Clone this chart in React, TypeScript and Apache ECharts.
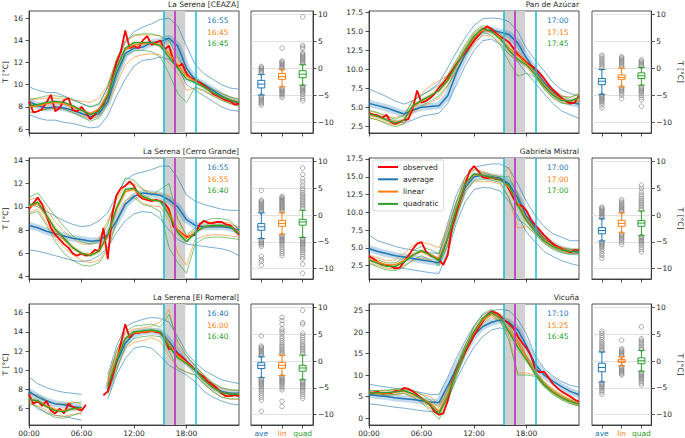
import React, { useEffect, useRef } from "react";
import * as echarts from "echarts";

// ---------- time grids (hours of day) ----------
const HOURS = [0,1,2,3,4,5,6,7,8,9,10,11,12,13,14,15,16,17,18,19,20,21,22,23,24];
const HALF_HOURS = [0,0.5,1,1.5,2,2.5,3,3.5,4,4.5,5,5.5,6,6.5,7,7.5,8,8.5,9,9.5,10,10.5,11,11.5,12,12.5,13,13.5,14,14.5,15,15.5,16,16.5,17,17.5,18,18.5,19,19.5,20,20.5,21,21.5,22,22.5,23,23.5,24];
const X_TICKS = [0, 6, 12, 18];
const ECLIPSE = [15.4, 16.7, 17.85]; // start, maximum, end (hours)
const WINDOW_END = 19.05;
const BOX_CATS = ["ave", "lin", "quad"];
const BOX_TICKS = [-10, -5, 0, 5, 10];

// ---------- La Serena [CEAZA] ----------
const ceazaObs = [8.5,7.5,7.6,7.8,8.4,9.1,7.6,7.9,8.6,8.8,7.7,7.6,8.0,7.5,6.9,7.3,7.8,8.2,9.0,10.5,12.0,13.0,14.9,13.3,13.5,13.3,14.0,14.4,13.6,13.8,14.0,13.2,13.5,12.2,11.6,11.9,11.0,10.6,10.4,10.2,9.9,9.6,9.2,9.0,8.8,8.6,8.5,8.2,8.3];
const ceazaAvg = [8.5,8.1,7.9,8.0,7.9,7.7,7.4,7.1,7.4,8.5,11.0,12.8,13.3,13.4,13.8,13.9,14.2,13.5,11.5,10.4,10.0,9.5,9.0,8.6,8.3];
const ceazaAvgHi = [9.8,9.5,9.3,9.3,9.0,8.6,8.3,8.0,8.2,9.8,12.0,13.8,14.8,15.2,15.5,15.9,16.0,15.3,13.5,11.8,11.0,10.5,10.0,9.7,9.6];
const ceazaAvgLo = [7.3,7.0,6.8,6.8,6.6,6.5,6.3,6.1,6.2,7.2,9.0,10.5,11.7,12.2,12.3,12.5,12.3,11.6,10.0,9.5,9.0,8.5,8.0,7.7,7.6];
const ceazaLin = [8.0,8.1,8.3,8.4,8.3,8.0,7.7,7.4,7.8,9.2,11.5,13.2,13.6,13.7,13.8,13.6,12.8,11.8,10.8,10.3,9.8,9.3,8.9,8.6,8.4];
const ceazaLinHi = [8.6,8.7,8.8,8.8,8.7,8.6,8.5,8.4,8.8,10.0,12.3,13.9,14.4,14.5,14.5,14.4,13.5,12.3,11.0,10.5,10.0,9.6,9.2,8.9,8.7];
const ceazaLinLo = [7.5,7.6,7.8,7.9,7.8,7.5,7.2,6.9,7.2,8.3,10.0,11.8,12.5,12.7,12.8,12.7,12.0,11.0,9.5,9.7,9.4,9.0,8.6,8.3,8.1];
const ceazaQuad = [8.1,8.2,8.4,8.5,8.4,8.1,7.7,7.3,7.6,9.0,11.5,13.3,13.8,13.8,13.8,13.5,12.5,11.5,10.5,10.2,9.8,9.3,8.9,8.6,8.4];
const ceazaQuadHi = [8.7,8.8,9.0,9.0,8.9,8.7,8.3,8.0,8.3,9.8,12.3,14.0,14.5,14.6,14.6,14.4,14.0,12.5,11.2,10.6,10.1,9.6,9.2,8.9,8.7];
const ceazaQuadLo = [7.5,7.6,7.8,7.9,7.8,7.5,7.1,6.7,7.0,8.3,10.6,12.6,13.1,13.1,13.0,12.5,11.0,9.2,8.4,9.8,9.5,9.0,8.6,8.3,8.1];
const ceazaTicks = [6, 8, 10, 12, 14, 16];
const ceazaTimes = ["16:55", "16:45", "16:45"];
const ceazaBox = [[-4.9,-3.6,-2.9,-2.2,-1.1],[-3.4,-2.0,-1.5,-0.9,-0.2],[-3.1,-1.7,-1.05,-0.4,0.7]];
const ceazaOut = [
  [0.4,0.2,0.0,-0.2,-0.4,-0.6,-0.8,-5.1,-5.3,-5.5,-5.7,-5.9,-6.1,-6.3,-6.5,-6.8],
  [3.8,1.4,1.2,1.0,0.8,0.6,0.4,0.2,0.0,-3.6,-3.8,-4.0,-4.2,-4.4,-4.6,-4.8,-5.1,-5.4],
  [9.6,4.3,4.0,3.7,2.9,2.7,2.5,2.3,2.1,1.9,1.7,1.5,1.3,1.1,0.9,-3.3,-3.5,-3.7,-3.9,-4.1,-4.3,-4.5,-4.8,-5.2,-5.6,-6.0],
];

// ---------- Pan de Azúcar ----------
const panObs = [4.2,4.0,3.9,3.6,4.0,3.0,2.8,3.0,3.3,3.4,4.8,7.2,5.6,5.8,6.2,6.8,7.6,8.2,9.0,9.8,10.7,11.5,12.3,13.0,13.8,14.5,15.2,15.7,15.3,14.8,14.3,14.0,13.6,12.8,12.0,11.4,10.9,10.5,10.1,9.5,8.8,8.0,7.3,6.8,6.2,5.8,5.5,5.6,6.5];
const panAvg = [5.5,5.2,4.9,4.5,4.1,4.6,5.0,5.1,5.2,6.5,9.6,12.0,13.9,15.1,15.2,14.9,14.6,13.5,11.5,9.8,8.3,7.0,6.1,5.6,5.4];
const panAvgHi = [7.4,6.9,6.4,5.8,5.4,5.8,6.5,7.3,8.2,10.2,12.3,14.2,15.8,16.7,16.8,16.7,16.3,15.0,12.8,11.2,9.8,8.3,7.3,6.8,6.5];
const panAvgLo = [4.0,3.8,3.5,3.2,2.9,3.3,3.8,4.0,4.2,5.5,8.0,10.5,12.5,13.8,14.0,13.3,12.0,11.0,9.5,8.2,6.8,5.5,4.5,4.0,3.5];
const panLin = [4.0,3.7,3.3,3.0,3.3,5.0,5.8,6.5,7.2,8.5,10.5,12.5,14.2,15.2,15.0,14.2,12.8,11.8,10.8,9.5,8.0,6.8,6.0,5.8,6.2];
const panLinHi = [4.5,4.2,3.8,3.6,4.0,5.8,6.8,7.8,8.5,9.2,11.0,13.0,14.8,15.6,15.3,14.7,13.5,12.3,11.2,9.9,8.5,7.3,6.5,6.3,6.7];
const panLinLo = [3.6,3.3,2.9,2.6,2.8,4.3,5.0,5.6,6.2,7.8,9.8,11.8,13.5,14.5,14.4,13.5,12.0,11.2,10.3,9.0,7.5,6.3,5.6,5.4,5.7];
const panQuad = [4.1,3.8,3.3,2.9,3.3,5.2,5.9,6.5,7.2,8.6,10.6,12.6,14.4,15.4,15.0,14.0,12.5,11.3,10.6,9.3,7.8,6.6,5.9,5.8,6.3];
const panQuadHi = [4.6,4.3,3.8,3.4,3.9,5.9,6.6,7.2,7.9,9.3,11.3,13.3,15.0,15.8,15.5,14.6,13.5,12.0,11.0,9.7,8.3,7.1,6.4,6.3,6.8];
const panQuadLo = [3.6,3.3,2.8,2.4,2.8,4.6,5.2,5.8,6.5,7.9,9.9,11.9,13.8,14.9,14.5,13.2,11.0,9.1,9.5,9.0,7.4,6.2,5.5,5.4,5.8];
const panTicks = [2.5, 5, 7.5, 10, 12.5, 15, 17.5];
const panTimes = ["17:00", "17:15", "17:45"];
const panBox = [[-4.8,-3.0,-2.35,-1.85,-0.2],[-3.4,-2.0,-1.65,-1.2,0.1],[-3.1,-1.85,-1.35,-0.8,0.2]];
const panOut = [
  [2.5,2.2,1.9,1.6,1.3,1.0,0.7,0.4,0.1,-4.9,-5.1,-5.3,-5.5,-5.7,-5.9,-6.1,-6.4,-6.8,-7.3],
  [2.2,2.0,1.8,1.6,1.4,1.2,1.0,0.8,0.5,0.3,-3.5,-3.7,-3.9,-4.1,-4.3,-4.6,-5.0,-5.6],
  [1.6,1.4,1.2,1.0,0.8,0.6,0.4,-3.4,-3.6,-3.8,-4.0,-4.2,-4.4,-4.7,-5.0,-5.4,-5.8,-7.0],
];

// ---------- La Serena [Cerro Grande] ----------
const cgObs = [9.8,10.3,10.8,10.2,9.2,8.2,7.6,7.2,6.8,6.5,6.0,5.8,6.0,5.8,5.9,6.3,6.2,8.2,5.5,9.3,11.0,11.6,11.8,12.2,11.8,11.0,10.7,10.6,10.5,10.6,10.5,10.3,9.8,8.3,8.0,7.7,7.4,7.5,7.6,8.5,8.8,8.6,8.6,8.7,8.7,8.5,8.4,8.0,7.6];
const cgAvg = [8.4,8.2,7.9,7.7,7.5,7.3,7.2,7.05,7.1,7.6,8.8,10.2,10.9,11.2,11.1,11.0,10.6,10.0,8.9,8.4,8.3,8.3,8.3,8.2,8.0];
const cgAvgHi = [10.3,10.0,9.6,9.2,8.8,8.5,8.3,8.4,8.8,9.5,11.0,12.3,12.8,13.0,13.2,13.5,13.5,12.5,11.0,10.5,10.2,10.0,9.8,9.7,9.7];
const cgAvgLo = [6.3,6.2,6.0,5.8,5.6,5.4,5.3,5.4,5.8,6.5,7.8,8.8,9.4,9.6,9.5,9.0,8.0,7.2,6.8,6.7,6.6,6.5,6.4,6.2,5.8];
const cgLin = [10.0,10.3,9.2,8.0,7.2,6.5,6.0,5.9,6.2,7.5,9.8,11.3,11.5,10.8,10.6,10.5,9.5,8.0,7.3,7.8,8.3,8.4,8.4,8.3,7.8];
const cgLinHi = [10.6,10.8,9.8,8.7,7.9,7.3,6.8,6.8,7.3,8.8,10.6,11.9,12.0,11.5,11.2,11.1,11.0,8.8,7.5,8.0,8.7,8.7,8.7,8.6,8.2];
const cgLinLo = [9.5,9.8,8.6,7.3,6.5,5.9,5.4,5.2,5.4,6.5,8.8,10.5,11.0,10.3,10.1,10.0,8.8,6.0,5.0,7.2,7.5,7.6,7.6,7.5,7.4];
const cgQuad = [10.1,10.4,9.3,8.1,7.3,6.5,6.0,5.8,6.2,7.6,9.9,11.5,11.6,10.9,10.6,10.5,9.3,7.8,7.0,7.8,8.3,8.4,8.4,8.3,7.7];
const cgQuadHi = [10.8,11.2,10.2,9.2,8.3,7.5,7.0,6.8,7.0,8.5,10.8,12.5,12.3,11.5,11.0,11.5,12.0,9.0,7.6,8.2,8.8,9.0,9.0,8.8,8.0];
const cgQuadLo = [9.4,9.6,8.4,7.0,6.0,5.4,5.0,4.9,5.2,6.3,8.6,10.3,10.8,10.2,10.0,9.6,6.5,5.2,4.3,6.8,7.3,7.4,7.4,7.3,7.2];
const cgTicks = [4, 6, 8, 10, 12, 14];
const cgTimes = ["16:55", "16:55", "16:40"];
const cgBox = [[-4.4,-2.85,-2.2,-1.6,0.4],[-3.6,-2.1,-1.55,-1.0,0.4],[-4.2,-1.9,-1.3,-0.8,0.9]];
const cgOut = [
  [4.6,2.8,2.6,2.4,2.2,2.0,1.8,1.6,1.4,1.2,1.0,0.8,0.6,-4.6,-4.8,-5.0,-5.2,-5.4,-5.6,-5.9,-7.7,-8.3,-8.7,-9.4],
  [3.5,3.3,3.1,2.9,2.7,2.5,2.3,2.1,1.9,1.7,1.5,1.3,1.1,0.9,0.7,-3.8,-4.0,-4.2,-4.4,-4.6,-4.8,-5.0,-5.3,-5.6,-6.0,-6.4,-6.8,-7.2,-7.6],
  [8.8,7.6,6.8,6.2,5.6,5.0,4.6,4.2,3.9,3.6,3.3,3.0,2.7,2.4,2.1,1.8,1.5,1.2,-4.4,-4.6,-4.8,-5.0,-5.2,-5.4,-5.6,-5.8,-6.1,-6.4,-6.7,-7.0,-7.4,-7.8,-8.2,-9.2,-10.9],
];

// ---------- Gabriela Mistral ----------
const gmObs = [3.8,3.5,3.0,2.6,2.6,2.4,2.1,2.2,3.0,3.9,4.8,5.6,5.8,4.5,3.9,3.7,3.3,2.6,4.0,8.0,10.0,12.0,14.0,15.8,16.5,15.8,14.9,14.8,14.9,14.7,14.6,14.3,13.3,12.0,11.0,10.9,10.2,9.0,8.2,7.5,6.8,6.2,5.6,5.2,4.9,4.6,4.4,4.7,4.6];
const gmAvg = [4.9,4.5,4.2,3.9,3.7,3.5,3.3,3.1,2.9,6.5,10.5,13.5,15.0,15.2,15.0,14.8,14.0,12.0,9.5,7.8,6.3,5.4,4.8,4.5,4.4];
const gmAvgHi = [6.8,6.0,5.6,5.2,4.9,4.7,4.5,4.3,4.2,8.5,12.5,15.0,16.3,16.6,16.8,16.8,16.2,14.0,11.5,9.5,8.0,7.0,6.5,6.0,6.0];
const gmAvgLo = [3.2,2.9,2.6,2.3,2.1,1.9,1.7,1.5,1.4,4.5,8.5,11.5,13.2,13.5,13.4,13.0,11.5,9.5,7.2,5.8,4.5,3.8,3.2,2.8,2.5];
const gmLin = [3.4,3.0,2.6,2.6,3.2,4.0,4.5,4.0,3.5,6.5,10.5,14.0,15.3,15.2,14.9,14.6,13.5,11.3,9.0,7.5,6.2,5.3,4.8,4.5,4.5];
const gmLinHi = [4.0,3.6,3.2,3.3,4.2,5.3,5.8,5.5,5.0,8.0,11.5,15.0,16.0,15.8,15.3,15.0,16.3,12.3,9.5,7.8,6.6,5.6,5.1,4.8,4.8];
const gmLinLo = [2.9,2.5,2.1,2.0,2.5,3.2,3.6,3.2,2.8,5.5,9.5,13.0,14.3,14.3,14.3,14.0,12.0,7.8,8.0,7.0,5.8,5.0,4.5,4.2,4.2];
const gmQuad = [3.3,2.8,2.4,2.4,3.0,4.0,4.6,4.0,3.2,6.3,10.5,14.0,15.4,15.2,14.9,14.6,13.8,11.0,8.8,7.3,6.0,5.2,4.7,4.5,4.5];
const gmQuadHi = [3.8,3.3,2.9,2.9,3.6,4.6,5.2,4.7,4.2,7.5,11.5,14.8,16.0,15.6,15.2,15.0,15.0,12.5,9.3,7.7,6.4,5.5,5.0,4.8,4.8];
const gmQuadLo = [2.8,2.3,1.9,1.8,2.3,3.3,3.9,3.3,2.5,5.3,9.3,13.0,14.5,14.6,14.5,14.2,12.0,9.0,8.2,6.9,5.6,4.8,4.3,4.1,4.2];
const gmTicks = [2.5, 5, 7.5, 10, 12.5, 15, 17.5];
const gmTimes = ["17:00", "17:00", "17:00"];
const gmBox = [[-4.85,-3.5,-2.9,-2.35,-0.7],[-3.35,-2.1,-1.55,-1.0,0.4],[-3.8,-2.1,-1.5,-1.0,0.75]];
const gmOut = [
  [1.5,1.3,1.1,0.9,0.7,0.5,0.3,0.1,-0.1,-0.3,-0.5,-5.0,-5.2,-5.4,-5.6,-5.8,-6.0,-6.3,-6.7,-7.2,-7.6,-8.1],
  [2.9,2.6,2.3,2.0,1.8,1.6,1.4,1.2,1.0,0.8,0.6,-3.5,-3.7,-3.9,-4.1,-4.3,-4.5,-4.8,-5.1,-5.5],
  [5.6,5.0,4.4,3.9,3.5,3.1,2.8,2.5,2.2,1.9,1.6,1.3,1.0,-4.0,-4.2,-4.4,-4.6,-4.8,-5.0,-5.3,-5.6,-6.0,-6.4,-6.9],
];

// ---------- La Serena [El Romeral] ----------
const erObs = [7.5,6.5,6.8,6.3,6.8,5.8,5.5,6.0,5.5,6.5,6.2,6.0,5.8,6.4,null,null,null,7.4,7.8,9.2,11.0,12.8,14.8,13.4,13.9,13.9,14.0,14.0,14.1,14.0,13.9,13.4,12.2,12.3,11.7,11.4,10.9,10.5,10.0,9.6,9.3,8.8,8.5,8.1,7.6,7.3,7.3,7.4,7.3];
const erAvg = [7.8,7.2,6.8,6.5,6.4,6.2,6.1,null,null,8.0,10.8,12.8,13.8,14.0,14.1,14.0,13.0,11.8,11.0,10.0,9.0,8.3,7.8,7.6,7.6];
const erAvgHi = [9.3,8.6,8.2,7.9,7.7,7.6,7.5,null,null,9.5,12.5,14.5,15.0,15.3,15.5,15.4,15.0,13.5,11.8,10.8,10.0,9.5,9.0,8.8,8.6];
const erAvgLo = [6.8,6.0,5.6,5.3,5.2,5.0,4.8,null,null,7.0,9.5,11.2,12.3,12.5,12.3,11.5,10.5,10.0,9.5,8.8,7.8,7.2,6.8,6.5,6.4];
const erLin = [7.0,6.8,6.3,5.9,5.8,6.0,6.0,null,null,8.5,11.3,13.3,13.9,14.0,14.1,14.0,12.8,11.5,10.8,10.0,9.0,8.2,7.7,7.5,7.5];
const erLinHi = [7.5,7.3,6.8,6.5,6.5,6.7,6.5,null,null,9.2,12.0,13.8,14.3,14.4,14.6,15.0,16.3,12.5,11.5,10.5,9.5,8.6,8.1,7.9,7.9];
const erLinLo = [6.6,6.3,5.8,5.3,5.2,5.4,5.5,null,null,8.0,10.3,12.3,12.9,13.1,13.4,13.0,11.5,10.3,9.8,9.5,8.5,7.8,7.2,7.0,7.0];
const erQuad = [7.0,6.8,6.2,5.8,5.7,6.0,6.1,null,null,8.3,11.0,13.3,14.0,14.1,14.2,14.0,12.5,11.3,10.7,10.0,9.0,8.2,7.7,7.5,7.5];
const erQuadHi = [7.6,7.4,6.9,6.5,6.4,6.6,6.7,null,null,9.0,12.0,14.0,14.6,14.7,14.8,14.5,15.8,13.0,11.5,10.4,9.5,8.7,8.2,8.0,7.9];
const erQuadLo = [6.5,6.2,5.5,5.1,5.0,5.3,5.6,null,null,7.5,10.0,12.5,13.3,13.5,13.6,13.5,12.0,10.2,9.8,9.5,8.6,7.8,7.2,7.0,7.0];
const erTicks = [6, 8, 10, 12, 14, 16];
const erTimes = ["16:40", "16:00", "16:40"];
const erBox = [[-3.1,-1.4,-0.8,-0.3,0.8],[-2.7,-1.35,-0.8,-0.25,1.1],[-3.5,-1.9,-1.3,-0.8,1.1]];
const erOut = [
  [4.7,2.8,2.6,2.4,2.2,2.0,1.8,1.6,1.4,1.2,1.0,-3.3,-3.5,-3.7,-3.9,-4.1,-4.3,-4.5,-4.7,-5.0,-5.3,-5.6,-6.0,-6.4,-6.8,-7.3,-9.4],
  [8.2,7.6,6.9,6.0,5.6,5.2,4.6,4.2,3.8,3.4,3.0,2.7,2.4,2.1,1.8,1.5,1.3,-2.9,-3.1,-3.3,-3.5,-3.7,-3.9,-4.1,-4.4,-4.7,-5.0,-5.4,-7.5,-8.5],
  [9.5,7.2,6.9,5.2,4.8,4.4,4.0,3.6,3.2,2.9,2.6,2.3,2.0,1.7,1.4,-3.7,-3.9,-4.1,-4.3,-4.5,-4.7,-4.9,-5.2,-5.5,-5.8,-6.2,-6.6,-7.0],
];

// ---------- Vicuña ----------
const vicObs = [5.8,5.9,6.1,5.7,5.8,5.8,6.3,6.2,7.0,6.8,6.2,5.4,4.6,3.8,3.0,1.4,0.8,1.1,4.0,8.5,11.2,13.3,15.4,17.3,19.2,21.0,22.5,24.0,24.8,24.5,23.8,22.8,22.0,20.9,19.0,17.5,16.3,14.5,11.5,10.6,10.8,9.5,8.0,7.0,6.2,5.6,5.0,4.3,3.8];
const vicAvg = [5.5,5.2,5.0,4.7,4.5,4.3,4.0,3.7,3.6,7.5,11.6,15.8,19.3,21.3,22.3,22.8,22.3,20.5,16.8,12.5,10.0,8.6,7.3,6.2,5.4];
const vicAvgHi = [7.9,7.5,7.2,6.9,6.6,6.3,5.9,5.5,5.5,9.5,14.0,18.0,21.5,24.0,25.0,25.3,25.0,23.0,19.5,14.5,11.5,9.8,8.5,7.6,7.2];
const vicAvgLo = [3.3,3.1,2.8,2.5,2.3,2.0,1.7,1.5,1.5,4.5,9.0,13.0,16.5,19.0,20.5,21.0,20.2,17.5,14.0,10.0,7.5,6.0,4.8,4.0,3.5];
const vicLin = [5.8,5.8,5.8,6.0,6.3,5.5,4.5,3.5,1.5,5.5,11.0,16.0,20.0,22.8,24.3,23.2,20.5,17.5,14.0,10.5,8.0,6.3,5.0,4.0,3.3];
const vicLinHi = [6.3,6.3,6.4,6.6,6.9,6.3,5.5,5.0,3.0,6.8,12.0,17.0,21.0,23.5,25.0,24.3,22.5,18.5,14.5,11.0,8.5,6.8,5.5,4.5,3.8];
const vicLinLo = [5.3,5.3,5.3,5.4,5.7,4.8,3.7,2.3,0.5,4.5,10.0,15.0,19.0,22.0,23.5,22.5,19.0,10.5,10.5,10.0,7.5,5.8,4.5,3.5,2.8];
const vicQuad = [5.8,5.9,5.9,6.1,6.4,5.7,4.5,3.0,1.0,5.0,10.8,16.0,20.2,23.2,24.6,23.3,20.0,16.5,13.5,10.3,7.8,6.0,4.7,3.8,3.2];
const vicQuadHi = [6.4,6.4,6.5,6.7,7.0,6.5,5.5,4.2,2.5,6.5,12.0,17.0,21.3,24.3,25.3,24.0,21.5,18.0,14.5,11.0,8.3,6.5,5.2,4.2,3.5];
const vicQuadLo = [5.3,5.4,5.3,5.5,5.8,5.0,3.5,1.8,-0.3,3.8,9.8,15.0,19.3,22.3,24.0,22.5,18.0,10.0,10.0,9.7,7.3,5.5,4.2,3.3,2.8];
const vicTicks = [0, 5, 10, 15, 20, 25];
const vicTimes = ["17:10", "15:25", "16:45"];
const vicBox = [[-3.9,-2.0,-1.2,-0.4,1.7],[-0.9,-0.25,0.0,0.3,0.8],[-1.9,-0.5,0.05,0.6,2.0]];
const vicOut = [
  [5.6,5.2,4.8,4.4,4.0,3.6,3.3,3.0,2.7,2.4,2.1,1.9,-4.1,-4.3,-4.5,-4.7,-4.9,-5.2,-5.5,-5.8,-6.2],
  [3.9,2.3,2.1,1.9,1.7,1.5,1.3,1.1,0.9,-1.0,-1.2,-1.4,-1.6,-1.8,-2.0,-2.2,-2.4,-2.6],
  [6.4,4.2,3.9,3.6,3.3,3.0,2.7,2.4,2.2,-2.1,-2.3,-2.5,-2.7,-2.9,-3.1,-3.3,-3.5,-3.8,-4.1,-4.5],
];

const stations = [
  { title: "La Serena [CEAZA]", yMin: 5.64, yMax: 16.66, ticks: ceazaTicks, dec: 0, times: ceazaTimes, obs: ceazaObs, avg: ceazaAvg, avgHi: ceazaAvgHi, avgLo: ceazaAvgLo, lin: ceazaLin, linHi: ceazaLinHi, linLo: ceazaLinLo, quad: ceazaQuad, quadHi: ceazaQuadHi, quadLo: ceazaQuadLo, box: ceazaBox, out: ceazaOut },
  { title: "Pan de Azúcar", yMin: 1.58, yMax: 17.72, ticks: panTicks, dec: 1, times: panTimes, obs: panObs, avg: panAvg, avgHi: panAvgHi, avgLo: panAvgLo, lin: panLin, linHi: panLinHi, linLo: panLinLo, quad: panQuad, quadHi: panQuadHi, quadLo: panQuadLo, box: panBox, out: panOut },
  { title: "La Serena [Cerro Grande]", yMin: 3.8, yMax: 14.2, ticks: cgTicks, dec: 0, times: cgTimes, obs: cgObs, avg: cgAvg, avgHi: cgAvgHi, avgLo: cgAvgLo, lin: cgLin, linHi: cgLinHi, linLo: cgLinLo, quad: cgQuad, quadHi: cgQuadHi, quadLo: cgQuadLo, box: cgBox, out: cgOut },
  { title: "Gabriela Mistral", yMin: 0.62, yMax: 17.64, ticks: gmTicks, dec: 1, times: gmTimes, obs: gmObs, avg: gmAvg, avgHi: gmAvgHi, avgLo: gmAvgLo, lin: gmLin, linHi: gmLinHi, linLo: gmLinLo, quad: gmQuad, quadHi: gmQuadHi, quadLo: gmQuadLo, box: gmBox, out: gmOut },
  { title: "La Serena [El Romeral]", yMin: 4.3, yMax: 16.9, ticks: erTicks, dec: 0, times: erTimes, obs: erObs, avg: erAvg, avgHi: erAvgHi, avgLo: erAvgLo, lin: erLin, linHi: erLinHi, linLo: erLinLo, quad: erQuad, quadHi: erQuadHi, quadLo: erQuadLo, box: erBox, out: erOut },
  { title: "Vicuña", yMin: -1.63, yMax: 26.55, ticks: vicTicks, dec: 0, times: vicTimes, obs: vicObs, avg: vicAvg, avgHi: vicAvgHi, avgLo: vicAvgLo, lin: vicLin, linHi: vicLinHi, linLo: vicLinLo, quad: vicQuad, quadHi: vicQuadHi, quadLo: vicQuadLo, box: vicBox, out: vicOut },
];

// ---------- styling ----------
const C_OBS = "#ff0000";
const C_AVG = "#1f77b4";
const C_LIN = "#ff7f0e";
const C_QUAD = "#2ca02c";
const C_CYAN = "#17becf";
const C_MAG = "#bf3fbf";
const C_SHADE = "#d0d0d0";
const C_OUT = "#7f7f7f";
const C_AX = "#262626";
const BOX_COLORS = [C_AVG, C_LIN, C_QUAD];
const FONT = "DejaVu Sans";
const FS = 7.5;

const ROW_TOP = [11, 158, 304];
const ROW_H = [122, 121, 121];
const LINE_LEFT = [29, 369];
const LINE_W = 210;
const BOX_LEFT = [251, 592];
const BOX_W = [62, 61];

function pairs(xs: number[], ys: (number | null)[]) {
  return ys.map((v, i) => [xs[i], v == null ? "-" : v]);
}
function minus(v: number) {
  return v < 0 ? "\u2212" + Math.abs(v) : String(v);
}

function buildOption() {
  const grid: any[] = [];
  const xAxis: any[] = [];
  const yAxis: any[] = [];
  const series: any[] = [];
  const graphic: any[] = [];

  stations.forEach((s, k) => {
    const r = Math.floor(k / 2);
    const c = k % 2;
    const gl = k * 2;
    const gb = k * 2 + 1;
    const frame = { show: true, borderColor: C_AX, borderWidth: 0.8, backgroundColor: "transparent" };
    grid.push({ left: LINE_LEFT[c], top: ROW_TOP[r], width: LINE_W, height: ROW_H[r], ...frame });
    grid.push({ left: BOX_LEFT[c], top: ROW_TOP[r], width: BOX_W[c], height: ROW_H[r], ...frame });

    const tickStyle = { lineStyle: { color: C_AX, width: 0.8 }, length: 3.5 };
    const axisLine = { show: true, onZero: false, lineStyle: { color: C_AX, width: 0.8 } };

    xAxis.push({
      type: "value", gridIndex: gl, min: 0, max: 24, axisLine,
      splitLine: { show: false },
      axisTick: { show: true, customValues: X_TICKS, ...tickStyle },
      axisLabel: {
        show: r === 2, customValues: X_TICKS, margin: 4, fontSize: FS, color: C_AX, fontFamily: FONT,
        formatter: (v: number) => (v < 10 ? "0" : "") + v + ":00",
      },
    });
    yAxis.push({
      type: "value", gridIndex: gl, min: s.yMin, max: s.yMax, axisLine,
      splitLine: { show: false },
      axisTick: { show: true, customValues: s.ticks, ...tickStyle },
      axisLabel: {
        customValues: s.ticks, margin: 6, fontSize: FS, color: C_AX, fontFamily: FONT,
        formatter: (v: number) => v.toFixed(s.dec),
      },
      name: c === 0 ? "T [°C]" : "", nameLocation: "middle", nameGap: 18,
      nameTextStyle: { fontSize: FS, color: C_AX, fontFamily: FONT },
    });
    xAxis.push({
      type: "category", gridIndex: gb, boundaryGap: true,
      data: BOX_CATS.map((n, i) => ({ value: n, textStyle: { color: BOX_COLORS[i] } })),
      axisLine,
      axisTick: { show: true, alignWithLabel: true, interval: 0, ...tickStyle },
      axisLabel: { show: r === 2, interval: 0, margin: 4, fontSize: FS, fontFamily: FONT },
      splitLine: { show: false },
    });
    yAxis.push({
      type: "value", gridIndex: gb, position: "right", min: -11.97, max: 10.68, axisLine,
      splitLine: { show: false },
      axisTick: { show: true, customValues: BOX_TICKS, ...tickStyle },
      axisLabel: { customValues: BOX_TICKS, margin: 5, fontSize: FS, color: C_AX, fontFamily: FONT, formatter: minus },
      name: c === 1 ? "T [°C]" : "", nameLocation: "middle", nameRotate: -90, nameGap: 23,
      nameTextStyle: { fontSize: FS, color: C_AX, fontFamily: FONT },
    });

    const ln = (name: string | undefined, xs: number[], ys: (number | null)[], color: string, width: number, opacity = 1, extra: any = {}) => ({
      type: "line", name, xAxisIndex: gl, yAxisIndex: gl, data: pairs(xs, ys),
      symbol: "none", showSymbol: false, silent: true, connectNulls: false,
      lineStyle: { color, width, opacity }, itemStyle: { color }, ...extra,
    });

    series.push(ln(undefined, HOURS, s.avgHi, C_AVG, 0.6, 1, {
      markArea: {
        silent: true, itemStyle: { color: C_SHADE },
        data: [[{ xAxis: ECLIPSE[0] }, { xAxis: ECLIPSE[2] }]],
      },
    }));
    series.push(ln(undefined, HOURS, s.avgLo, C_AVG, 0.6));
    series.push(ln(undefined, HOURS, s.avg, C_AVG, 7, 0.28));
    series.push(ln(undefined, HOURS, s.linHi, C_LIN, 0.6));
    series.push(ln(undefined, HOURS, s.linLo, C_LIN, 0.6));
    series.push(ln(undefined, HOURS, s.quadHi, C_QUAD, 0.6));
    series.push(ln(undefined, HOURS, s.quadLo, C_QUAD, 0.6));
    series.push(ln(undefined, HOURS, s.lin, C_LIN, 4, 0.18));
    series.push(ln(undefined, HOURS, s.quad, C_QUAD, 4, 0.18));
    series.push(ln("average", HOURS, s.avg, C_AVG, 1.5));
    series.push(ln("observed", HALF_HOURS, s.obs, C_OBS, 1.8));
    series.push(ln("linear", HOURS, s.lin, C_LIN, 1.3));
    series.push(ln("quadratic", HOURS, s.quad, C_QUAD, 1.3, 1, {
      markLine: {
        silent: true, symbol: ["none", "none"], label: { show: false },
        lineStyle: { width: 1.5, type: "solid" },
        data: [
          { xAxis: ECLIPSE[0], lineStyle: { color: C_CYAN, width: 1.5, type: "solid" } },
          { xAxis: ECLIPSE[1], lineStyle: { color: C_MAG, width: 1.8, type: "solid" } },
          { xAxis: WINDOW_END, lineStyle: { color: C_CYAN, width: 1.5, type: "solid" } },
        ],
      },
    }));

    series.push({
      type: "scatter", xAxisIndex: gb, yAxisIndex: gb, silent: true, z: 2,
      data: s.out.flatMap((arr: number[], i: number) => arr.map((v) => [i, v])),
      symbol: "circle", symbolSize: 4.5,
      itemStyle: { color: "rgba(0,0,0,0)", borderColor: C_OUT, borderWidth: 0.8 },
      markLine: {
        silent: true, symbol: ["none", "none"], label: { show: false }, z: 1,
        lineStyle: { color: "#d9d9d9", width: 0.8, type: "solid" },
        data: BOX_TICKS.map((v) => ({ yAxis: v })),
      },
    });
    series.push({
      type: "boxplot", xAxisIndex: gb, yAxisIndex: gb, silent: true, z: 3,
      boxWidth: [7, 7],
      data: s.box.map((b: number[], i: number) => ({
        value: b,
        itemStyle: { color: "rgba(0,0,0,0)", borderColor: BOX_COLORS[i], borderWidth: 1 },
      })),
    });

    graphic.push({
      type: "text", x: LINE_LEFT[c] + LINE_W, y: ROW_TOP[r] - 7,
      style: { text: s.title, align: "right", textAlign: "right", verticalAlign: "middle", textVerticalAlign: "middle", fontSize: FS, fontFamily: FONT, fill: C_AX },
    });
    const dy = [9.8, 21.3, 32.8];
    s.times.forEach((t: string, i: number) => {
      graphic.push({
        type: "text", x: LINE_LEFT[c] + 178, y: ROW_TOP[r] + dy[i],
        style: { text: t, align: "left", textAlign: "left", verticalAlign: "middle", textVerticalAlign: "middle", fontSize: FS, fontFamily: FONT, fill: BOX_COLORS[i] },
      });
    });
  });

  return {
    animation: false,
    backgroundColor: "#ffffff",
    textStyle: { fontFamily: FONT, fontSize: FS },
    grid, xAxis, yAxis, series, graphic,
    legend: {
      data: ["observed", "average", "linear", "quadratic"],
      orient: "vertical", left: 373, top: 160,
      itemWidth: 20, itemHeight: 7, itemGap: 4.3,
      itemStyle: { opacity: 0 },
      textStyle: { fontSize: FS, color: C_AX, fontFamily: FONT },
      borderColor: "#cccccc", borderWidth: 0.8, borderRadius: 2,
      padding: [3, 5, 3, 4], backgroundColor: "rgba(255,255,255,0.85)",
      selectedMode: false,
    },
  };
}

export default function App() {
  const ref = useRef<HTMLDivElement>(null);
  useEffect(() => {
    if (!ref.current) return;
    const chart = echarts.init(ref.current, undefined, { renderer: "svg" });
    chart.setOption(buildOption() as any);
    return () => chart.dispose();
  }, []);
  return <div ref={ref} style={{ position: "absolute", left: 0, top: 0, width: 685, height: 438 }} />;
}
